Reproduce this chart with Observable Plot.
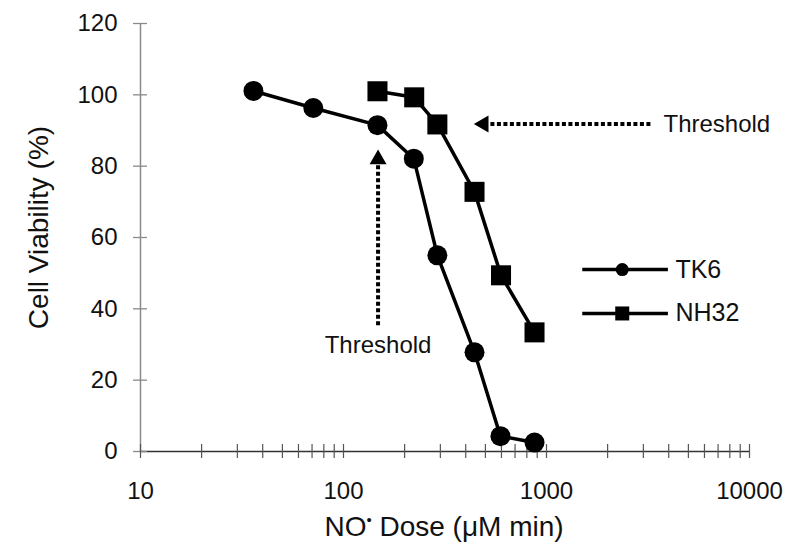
<!DOCTYPE html>
<html>
<head>
<meta charset="utf-8">
<script src="https://cdn.jsdelivr.net/npm/d3@7"></script>
<script src="https://cdn.jsdelivr.net/npm/@observablehq/plot@0.6"></script>
<style>
  body { margin: 0; background: #fff; }
  #chart svg { font-family: "Liberation Sans", Arial, sans-serif; background: #fff; }
</style>
</head>
<body>
<div id="chart"></div>
<script>
// ---- data ----
const seriesNames = ["TK6", "NH32"];
const tk6Dose = [36, 71, 147, 222, 290, 442, 593, 873];
const tk6Viability = [101.1, 96.3, 91.5, 82.1, 55.0, 27.8, 4.3, 2.5];
const nh32Dose = [147, 223, 290, 442, 597, 873];
const nh32Viability = [101.0, 99.3, 91.7, 72.8, 49.4, 33.4];

// axis ticks
const yTicks = [0, 20, 40, 60, 80, 100, 120];
const xTickLabels = [10, 100, 1000, 10000];
const xMinorTicks = [];
for (const decade of [10, 100, 1000]) for (let k = 1; k <= 9; k++) xMinorTicks.push(k * decade);
xMinorTicks.push(10000);

// annotations (data coordinates)
const thresholdLines = [
  {x1: 3250, y1: 91.8, x2: 470, y2: 91.8},
  {x1: 148, y1: 35.4, x2: 148, y2: 83}
];
const thresholdHeads = [
  {x: 490, y: 91.8, angle: -90},
  {x: 148, y: 81.9, angle: 0}
];
const thresholdTextRight = [{x: 3770, y: 91.8, label: "Threshold"}];
const thresholdTextBelow = [{x: 148, y: 29.8, label: "Threshold"}];

// legend (data coordinates)
const legendY = [51.0, 38.7];
const legendX1 = 1500, legendX2 = 3963, legendMarkX = 2361, legendTextX = 4315;

const tk6 = tk6Dose.map((d, i) => ({dose: d, v: tk6Viability[i]}));
const nh32 = nh32Dose.map((d, i) => ({dose: d, v: nh32Viability[i]}));
const legend = seriesNames.map((name, i) => ({name, y: legendY[i]}));

const chart = Plot.plot({
  width: 800,
  height: 555,
  marginLeft: 140,
  marginRight: 51,
  marginTop: 23,
  marginBottom: 104,
  x: {type: "log", domain: [10, 10000], label: null},
  y: {domain: [0, 120], label: null},
  style: {fontFamily: "Liberation Sans, Arial, sans-serif", color: "#111"},
  marks: [
    // axis lines
    Plot.ruleX([10], {stroke: "#8a8a8a", strokeWidth: 1.5}),
    Plot.ruleY([0], {stroke: "#333", strokeWidth: 1.3}),
    // y ticks crossing the axis + labels
    Plot.axisY({ticks: yTicks, tickSize: 14, dx: 7, tickPadding: 16, stroke: "#8a8a8a", strokeWidth: 1.3,
      fontSize: 24, fill: "#111", label: null}),
    // x minor ticks crossing the axis
    Plot.axisX({ticks: xMinorTicks, tickSize: 14, dy: -7, tickFormat: () => "", stroke: "#555", strokeWidth: 1.2, label: null}),
    // x decade labels
    Plot.axisX({ticks: xTickLabels, tickSize: 0, tickPadding: 30, tickFormat: d => String(d), fontSize: 24, fill: "#111", label: null}),
    // axis titles
    Plot.text(["NO\u2022 Dose (\u03BCM min)"], {frameAnchor: "bottom", dx: -1, dy: 76, lineAnchor: "middle", textAnchor: "middle", fontSize: 28, fill: "#111"}),
    Plot.text(["Cell Viability (%)"], {frameAnchor: "left", dx: -101, dy: -10, rotate: -90, lineAnchor: "middle", textAnchor: "middle", fontSize: 28, fill: "#111"}),
    // threshold annotations
    Plot.link(thresholdLines, {x1: "x1", y1: "y1", x2: "x2", y2: "y2", stroke: "#000", strokeWidth: 4, strokeDasharray: "4,2.5"}),
    Plot.dot(thresholdHeads, {x: "x", y: "y", rotate: "angle", symbol: "triangle", r: 6.3, fill: "#000", stroke: null}),
    Plot.text(thresholdTextRight, {x: "x", y: "y", text: "label", textAnchor: "start", fontSize: 24, fill: "#111"}),
    Plot.text(thresholdTextBelow, {x: "x", y: "y", text: "label", textAnchor: "middle", fontSize: 24, fill: "#111"}),
    // series
    Plot.line(tk6, {x: "dose", y: "v", stroke: "#000", strokeWidth: 3.5}),
    Plot.line(nh32, {x: "dose", y: "v", stroke: "#000", strokeWidth: 3.5}),
    Plot.dot(tk6, {x: "dose", y: "v", symbol: "circle", r: 10, fill: "#000", stroke: null}),
    Plot.dot(nh32, {x: "dose", y: "v", symbol: "square", r: 11.3, fill: "#000", stroke: null}),
    // legend
    Plot.link(legend, {x1: () => legendX1, x2: () => legendX2, y1: "y", y2: "y", stroke: "#000", strokeWidth: 3.5}),
    Plot.dot(legend.slice(0, 1), {x: () => legendMarkX, y: "y", symbol: "circle", r: 6.5, fill: "#000", stroke: null}),
    Plot.dot(legend.slice(1, 2), {x: () => legendMarkX, y: "y", symbol: "square", r: 7.9, fill: "#000", stroke: null}),
    Plot.text(legend, {x: () => legendTextX, y: "y", text: "name", textAnchor: "start", fontSize: 25, fill: "#111"})
  ]
});

// render the radical dot of NO• as a small superscript
for (const t of chart.querySelectorAll("text")) {
  if (t.textContent === "NO\u2022 Dose (\u03BCM min)") {
    t.textContent = "";
    const ns = "http://www.w3.org/2000/svg";
    const a = document.createElementNS(ns, "tspan"); a.textContent = "NO";
    const b = document.createElementNS(ns, "tspan"); b.textContent = "\u2022"; b.setAttribute("font-size", 15); b.setAttribute("dy", "-11");
    const c = document.createElementNS(ns, "tspan"); c.textContent = " Dose (\u03BCM min)"; c.setAttribute("dy", "11");
    t.append(a, b, c);
  }
}
document.getElementById("chart").appendChild(chart);
</script>
</body>
</html>
